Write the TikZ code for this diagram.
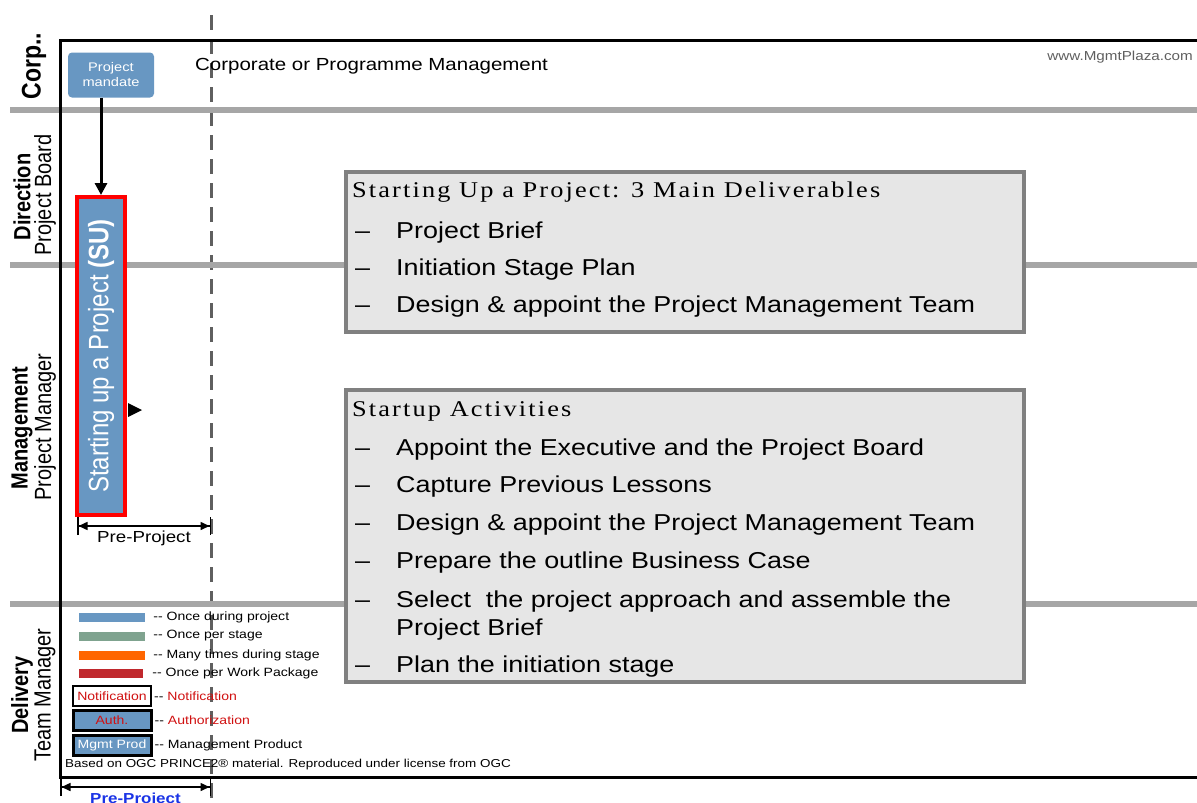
\documentclass[tikz,border=0pt]{standalone}
\usepackage{fontspec}
\setmainfont{Liberation Sans}[FakeStretch=1.17]
\newfontfamily\lanefont{Liberation Sans}
\newfontfamily\headfont{Liberation Serif}[FakeStretch=1.17,LetterSpace=9.5]
\usetikzlibrary{arrows.meta,positioning}
\definecolor{subu}{HTML}{6897C2}
\definecolor{lanegray}{HTML}{A6A6A6}
\definecolor{boxgray}{HTML}{E6E6E6}
\definecolor{edgegray}{HTML}{808080}
\definecolor{dashgray}{HTML}{5F5F5F}
\definecolor{stagegreen}{HTML}{7FA38F}
\definecolor{manyorange}{HTML}{FF6600}
\definecolor{wpred}{HTML}{C0282D}
\definecolor{notered}{HTML}{D01010}
\definecolor{ppblue}{HTML}{1A33E6}
\newcommand{\upright}[1]{\scalebox{1}[1.17]{#1}}

\begin{document}
\begin{tikzpicture}[x=1pt,y=-1pt, lane/.style={line width=6pt,lanegray}, frame/.style={line width=3pt}, lanelabel/.style={rotate=90,inner sep=0pt,font=\lanefont\fontsize{20}{22}\selectfont}, infobox/.style={draw=edgegray,fill=boxgray,line width=4pt,anchor=north west,outer sep=0pt}, head/.style={anchor=base west,inner sep=0pt,font=\headfont\fontsize{22.5}{26}\selectfont}, item/.style={anchor=base west,inner sep=0pt,align=left,font=\fontsize{23}{28}\selectfont}, legbar/.style={minimum width=66,minimum height=9,inner sep=0pt}, legbox/.style={draw,minimum width=78,minimum height=20,inner sep=0pt,font=\fontsize{12}{14}\selectfont}, legtext/.style={inner sep=0pt,font=\fontsize{12}{14}\selectfont}, dimline/.style={line width=1.5pt,{Bar[width=18pt]Triangle[width=8pt,length=9pt]}-{Triangle[width=8pt,length=9pt]Bar[width=18pt]}}]
\useasboundingbox (0,0) rectangle (1197,803);
\draw[dashgray,line width=3pt,dash pattern=on 15pt off 9pt] (211,15) -- (211,803);
\draw[lane] (10,110) -- (1197,110);
\draw[lane] (10,265) -- (1197,265);
\draw[lane] (10,604) -- (1197,604);
\draw[frame] (1205,40) -- (60,40) -- (60,777) -- (1205,777);
\node[lanelabel,font=\lanefont\fontsize{23}{25}\selectfont] (corp) at (34,66) {\upright{\textbf{Corp..}}};
\node[lanelabel] (dirhead) at (22,197) {\upright{\textbf{Direction}}};
\node[lanelabel] (dirrole) at (45,195) {\upright{Project Board}};
\node[lanelabel] (mgthead) at (22,428) {\upright{\textbf{Management}}};
\node[lanelabel] (mgtrole) at (45,427) {\upright{Project Manager}};
\node[lanelabel] (delhead) at (22,695) {\upright{\textbf{Delivery}}};
\node[lanelabel] (delrole) at (45,695) {\upright{Team Manager}};
\node[anchor=west,inner sep=0pt,font=\fontsize{17.5}{20}\selectfont] (corptext) at (195,66) {Corporate or Programme Management};
\node[anchor=east,inner sep=0pt,text=dashgray,font=\fontsize{13}{15}\selectfont] (site) at (1193,57) {www.MgmtPlaza.com};
\node[fill=subu,rounded corners=4pt,minimum width=86,minimum height=45,inner sep=0pt,text=white,align=center,font=\fontsize{12.5}{15}\selectfont] (mandate) at (111,75) {Project\\mandate};
\node[draw=red,fill=subu,line width=4pt,rotate=90,minimum width=318,minimum height=48,inner sep=0pt,text=white,font=\lanefont\fontsize{24}{26}\selectfont] (su) at (101,356) {\upright{Starting up a Project \textbf{(SU)}}};
\draw[line width=3pt,-{Triangle[width=12pt,length=12pt]}] (su.east |- mandate.south) -- (su.east);
\fill (128,403) -- (142,410) -- (128,417) -- cycle;
\coordinate (ppleft) at (77,526);
\coordinate (ppright) at (211,526);
\draw[dimline] (ppleft) -- node[below=4pt,inner sep=0pt,font=\fontsize{16}{18}\selectfont] (pplabel) {Pre-Project} (ppright);
\coordinate (bottomleft) at (60,787);
\coordinate (bottomright) at (211,787);
\draw[dimline] (bottomleft) -- node[below=5pt,inner sep=0pt,text=ppblue,font=\bfseries\fontsize{14.5}{16}\selectfont] (bottomlabel) {Pre-Project} (bottomright);
\node[infobox,minimum width=678,minimum height=160] (delivbox) at (346,172) {};
\node[head] (delivhead) at (352,197) {Starting Up a Project: 3 Main Deliverables};
\foreach \t [count=\i] in {Project Brief, Initiation Stage Plan, Design \& appoint the Project Management Team} {
  \node[item] (delivdash\i) at (355,{238+37*(\i-1)}) {--};
  \node[item] (deliv\i) at (396,{238+37*(\i-1)}) {\t};
}
\node[infobox,minimum width=678,minimum height=292] (actbox) at (346,390) {};
\node[head] (acthead) at (352,416) {Startup Activities};
\foreach \y/\t [count=\i] in {455/Appoint the Executive and the Project Board, 492/Capture Previous Lessons, 530/Design \& appoint the Project Management Team, 568/Prepare the outline Business Case} {
  \node[item] (actdash\i) at (355,\y) {--};
  \node[item] (act\i) at (396,\y) {\t};
}
\node[item] (actdash5) at (355,607) {--};
\node[item] (act5) at (396,635) {Select\ \ the project approach and assemble the\\Project Brief};
\node[item] (actdash6) at (355,672) {--};
\node[item] (act6) at (396,672) {Plan the initiation stage};
\node[legbar,fill=subu] (legonce) at (112,617) {};
\node[legtext,right=8pt of legonce] (legoncetext) {-{}- Once during project};
\node[legbar,fill=stagegreen] (legstage) at (112,636) {};
\node[legtext,right=8pt of legstage] (legstagetext) {-{}- Once per stage};
\node[legbar,fill=manyorange] (legmany) at (112,655) {};
\node[legtext,right=8pt of legmany] (legmanytext) {-{}- Many times during stage};
\node[legbar,fill=wpred,minimum width=64] (legwp) at (111,673) {};
\node[legtext,right=9pt of legwp] (legwptext) {-{}- Once per Work Package};
\node[legbox,line width=2pt,fill=white,text=notered] (legnote) at (112,696) {Notification};
\node[legtext,right=2pt of legnote] (legnotetext) {-{}- \textcolor{notered}{Notification}};
\node[legbox,line width=3pt,fill=subu,text=notered] (legauth) at (112,720) {Auth.};
\node[legtext,right=2pt of legauth] (legauthtext) {-{}- \textcolor{notered}{Authorization}};
\node[legbox,line width=3pt,fill=subu,text=white] (legprod) at (112,745) {Mgmt Prod};
\node[legtext,right=2pt of legprod] (legprodtext) {-{}- Management Product};
\node[anchor=west,inner sep=0pt,font=\fontsize{11.5}{13}\selectfont] (source) at (65,765) {Based on OGC PRINCE2\textregistered{} material. Reproduced under license from OGC};
\end{tikzpicture}
\end{document}
